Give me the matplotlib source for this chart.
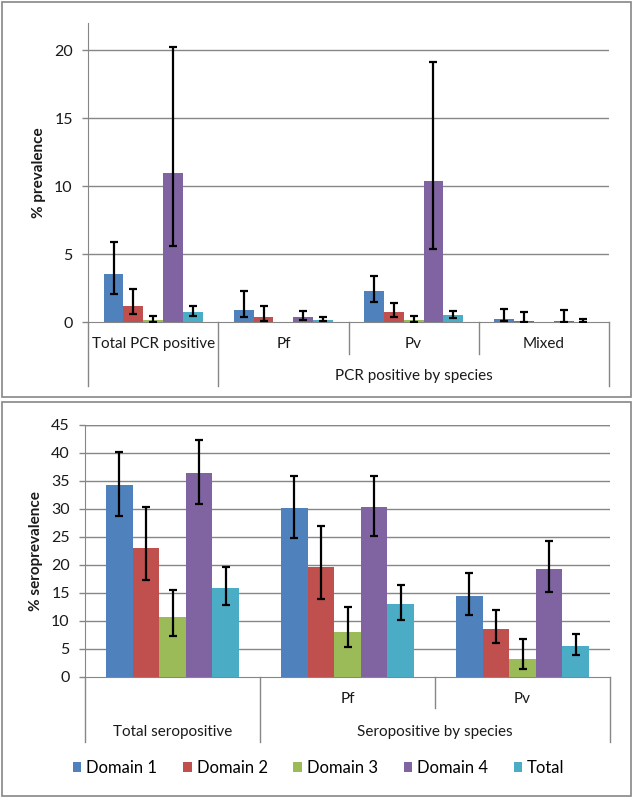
import numpy as np
import matplotlib.pyplot as plt
from matplotlib.patches import Rectangle, Patch
from matplotlib.lines import Line2D
from matplotlib.transforms import blended_transform_factory

plt.rcParams['font.family'] = ['Lato', 'DejaVu Sans']

W, H = 634, 799
gridcol = '#868686'
textcol = '#1a1a1a'

series = ['Domain 1', 'Domain 2', 'Domain 3', 'Domain 4', 'Total']
colors = ['#4F81BD', '#C0504D', '#9BBB59', '#8064A2', '#4BACC6']

# ---- PCR prevalence (top) ----
pcr_cats = ['Total PCR positive', 'Pf', 'Pv', 'Mixed']
pcr_val = [
    [3.5, 0.9, 2.27, 0.22],      # Domain 1
    [1.2, 0.35, 0.7, 0.06],      # Domain 2
    [0.15, 0.0, 0.15, 0.0],      # Domain 3
    [10.95, 0.35, 10.4, 0.1],    # Domain 4
    [0.72, 0.15, 0.5, 0.03],     # Total
]
pcr_lo = [
    [2.05, 0.35, 1.5, 0.08],
    [0.6, 0.1, 0.35, 0.0],
    [0.0, np.nan, 0.0, np.nan],
    [5.6, 0.15, 5.37, 0.0],
    [0.47, 0.05, 0.33, 0.0],
]
pcr_hi = [
    [5.85, 2.3, 3.35, 0.96],
    [2.4, 1.2, 1.43, 0.77],
    [0.45, np.nan, 0.44, np.nan],
    [20.25, 0.78, 19.1, 0.86],
    [1.15, 0.4, 0.79, 0.22],
]

# ---- seroprevalence (bottom) ----
sero_cats = ['', 'Pf', 'Pv']
sero_val = [
    [34.2, 30.1, 14.4],
    [23.1, 19.6, 8.5],
    [10.8, 8.1, 3.15],
    [36.4, 30.3, 19.3],
    [15.9, 13.0, 5.5],
]
sero_lo = [
    [28.7, 24.9, 11.1],
    [17.4, 14.0, 6.1],
    [7.4, 5.35, 1.4],
    [30.9, 25.2, 15.1],
    [12.9, 10.2, 3.9],
]
sero_hi = [
    [40.2, 35.9, 18.6],
    [30.3, 26.9, 11.9],
    [15.6, 12.5, 6.8],
    [42.4, 35.9, 24.2],
    [19.7, 16.5, 7.7],
]


def fy(py):
    return 1 - py / H


def draw_bars(ax, vals, lo, hi, ncat):
    x = np.arange(ncat)
    bw = 0.152
    for i, (v, l, h) in enumerate(zip(vals, lo, hi)):
        v = np.array(v, float)
        l = np.array(l, float)
        h = np.array(h, float)
        xs = x + (i - 2) * bw
        ax.bar(xs, v, width=bw, color=colors[i], edgecolor='none', zorder=3)
        ok = ~np.isnan(h)
        ax.errorbar(xs[ok], v[ok], yerr=[v[ok] - l[ok], h[ok] - v[ok]],
                    fmt='none', ecolor='black', elinewidth=1.6,
                    capsize=3.2, capthick=1.6, zorder=4)


def style(ax, ymax, ticks, ylabel):
    ax.set_ylim(0, ymax)
    ax.set_yticks(ticks)
    ax.set_yticklabels([str(t) for t in ticks])
    ax.set_xticks([])
    for t in ticks[1:]:
        ax.axhline(t, color=gridcol, lw=1.0, zorder=1)
    for s in ['top', 'right']:
        ax.spines[s].set_visible(False)
    ax.spines['left'].set_color(gridcol)
    ax.spines['bottom'].set_color(gridcol)
    ax.tick_params(axis='y', colors=gridcol, labelcolor=textcol,
                   labelsize=11.5, length=4, width=1, pad=7)
    ax.set_ylabel(ylabel, fontsize=11, fontweight='bold', color=textcol, labelpad=6)


def sep(fig, ax, xd, y0, y1):
    tr = blended_transform_factory(ax.transData, fig.transFigure)
    fig.add_artist(Line2D([xd, xd], [fy(y0), fy(y1)], transform=tr,
                          color=gridcol, lw=1.0))


def label(fig, ax, xd, py, s):
    tr = blended_transform_factory(ax.transData, fig.transFigure)
    fig.text(xd, fy(py), s, transform=tr, ha='center', va='center',
             fontsize=11, color=textcol)


fig = plt.figure(figsize=(W / 100, H / 100), dpi=100)

# panel borders
for (x0, y0, x1, y1) in [(2, 2, 631, 397), (2, 402, 631, 796)]:
    fig.add_artist(Rectangle((x0 / W, fy(y1)), (x1 - x0) / W, (y1 - y0) / H,
                             transform=fig.transFigure, fill=False,
                             edgecolor=gridcol, lw=1.2))

# top chart
ax1 = fig.add_axes([88 / W, fy(322), (609 - 88) / W, (322 - 23) / H])
draw_bars(ax1, pcr_val, pcr_lo, pcr_hi, len(pcr_cats))
ax1.set_xlim(-0.5, len(pcr_cats) - 0.5)
style(ax1, 22, [0, 5, 10, 15, 20], '% prevalence')
for xd in [-0.5, 0.5, 3.5]:
    sep(fig, ax1, xd, 322, 386)
for xd in [1.5, 2.5]:
    sep(fig, ax1, xd, 322, 354)
for i, c in enumerate(pcr_cats):
    label(fig, ax1, i, 344, c)
label(fig, ax1, 2, 376, 'PCR positive by species')

# bottom chart
ax2 = fig.add_axes([85 / W, fy(677), (610 - 85) / W, (677 - 425) / H])
draw_bars(ax2, sero_val, sero_lo, sero_hi, len(sero_cats))
ax2.set_xlim(-0.5, len(sero_cats) - 0.5)
style(ax2, 45, [0, 5, 10, 15, 20, 25, 30, 35, 40, 45], '% seroprevalence')
ax2.axhline(45, color=gridcol, lw=1.0, zorder=1)
for xd in [-0.5, 0.5, 2.5]:
    sep(fig, ax2, xd, 677, 742)
sep(fig, ax2, 1.5, 677, 708)
for i, c in enumerate(sero_cats):
    if c:
        label(fig, ax2, i, 699, c)
label(fig, ax2, 0, 732, 'Total seropositive')
label(fig, ax2, 1.5, 732, 'Seropositive by species')

handles = [Patch(facecolor=c, edgecolor='none', label=s) for s, c in zip(series, colors)]
fig.legend(handles=handles, loc='center', bbox_to_anchor=(0.503, fy(768)),
           ncol=5, frameon=False, fontsize=12, handlelength=0.5,
           handleheight=0.5, handletextpad=0.3, columnspacing=1.55)

plt.savefig('out.png', dpi=100, facecolor='white')
